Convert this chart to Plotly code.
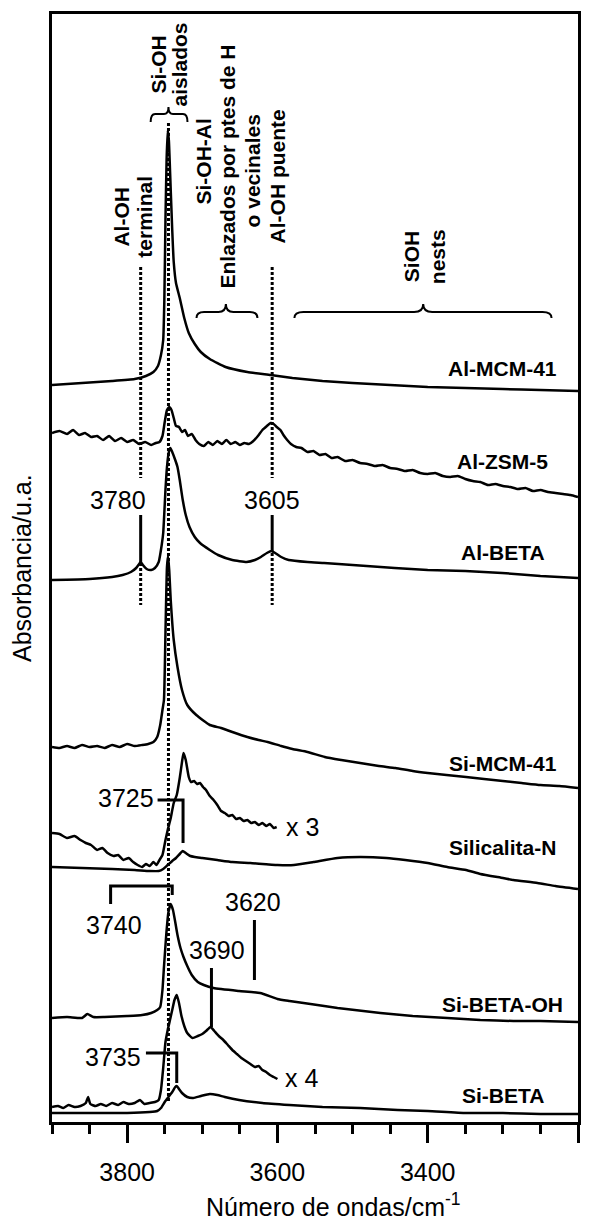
import plotly.graph_objects as go

# ---------------- data (wavenumber in cm-1, absorbance in a.u., stacked) ----------------
wn_al_mcm41 = [3900, 3860, 3820, 3790, 3775, 3765, 3759, 3755, 3752, 3750.5, 3749, 3747.5, 3746,
               3744.5, 3742, 3740, 3738, 3735, 3730, 3724, 3718, 3710, 3702, 3690, 3669, 3640,
               3609, 3580, 3540, 3500, 3450, 3400, 3350, 3300, 3250, 3200]
abs_al_mcm41 = [737, 739, 741, 743, 746, 750, 756, 767, 782, 822, 902, 962, 992,
                982, 932, 892, 860, 839, 824, 804, 789, 778, 770, 763, 755, 750,
                747, 744, 741, 739, 737, 735, 734, 733, 732, 731]

wn_al_zsm5 = [3900, 3890, 3880, 3872, 3864, 3856, 3848, 3840, 3832, 3824, 3816, 3808, 3800, 3792,
              3784, 3776, 3768, 3762, 3757, 3753, 3750, 3747, 3744, 3741, 3738, 3735, 3731, 3727,
              3723, 3719, 3714, 3709, 3704, 3698, 3692, 3686, 3680, 3674, 3668, 3662, 3656, 3650,
              3644, 3638, 3632, 3626, 3620, 3614, 3609, 3605, 3601, 3596, 3592, 3587, 3582, 3575,
              3568, 3560, 3552, 3544, 3536, 3528, 3520, 3510, 3500, 3490, 3480, 3470, 3460, 3450,
              3440, 3430, 3420, 3410, 3400, 3390, 3380, 3370, 3360, 3350, 3340, 3330, 3320, 3310,
              3300, 3290, 3280, 3270, 3260, 3250, 3240, 3230, 3220, 3210, 3200]
abs_al_zsm5 = [689, 691, 688, 692, 687, 689, 685, 686, 682, 686, 681, 684, 680, 682,
               678, 680, 677, 679, 680, 686, 700, 712, 715, 712, 704, 696, 695, 690,
               692, 686, 688, 682, 678, 676, 680, 677, 681, 678, 682, 678, 680, 677,
               679, 678, 681, 686, 692, 696, 699, 698, 695, 692, 687, 682, 678, 675,
               674, 670, 671, 667, 668, 664, 665, 661, 662, 659, 658, 656, 657, 654,
               653, 651, 652, 649, 648, 649, 646, 645, 646, 643, 641, 640, 637, 638,
               636, 635, 633, 634, 631, 632, 630, 629, 628, 627, 625]

wn_al_beta = [3900, 3850, 3820, 3806, 3795, 3788, 3784, 3782, 3779, 3774, 3768, 3763, 3758, 3754,
              3752, 3749, 3747, 3744.5, 3742.5, 3740, 3736, 3733, 3730, 3726, 3722, 3717, 3710,
              3703, 3690, 3679, 3660, 3641, 3630, 3622, 3614, 3608, 3603, 3595, 3585, 3560, 3538,
              3500, 3444, 3400, 3350, 3301, 3250, 3200]
abs_al_beta = [542, 543, 545, 547, 550, 554, 558, 560, 557, 553, 552, 554, 560, 577,
               589, 632, 655, 670, 674, 670, 662, 655, 642, 622, 607, 595, 585,
               579, 572, 567, 562, 560, 562, 565, 569, 571, 569, 565, 562, 560, 559,
               557, 554, 552, 551, 549, 546, 544]

wn_si_mcm41 = [3900, 3890, 3880, 3870, 3860, 3850, 3840, 3830, 3820, 3810, 3800, 3790, 3780, 3772,
               3765, 3760, 3756, 3753, 3751, 3749, 3747, 3745.5, 3744, 3742, 3738, 3733, 3727,
               3720, 3708, 3690, 3675, 3660, 3640, 3625, 3613, 3595, 3580, 3560, 3537, 3515,
               3490, 3465, 3443, 3420, 3400, 3375, 3349, 3325, 3300, 3275, 3250, 3225, 3200]
abs_si_mcm41 = [375, 374, 376, 374, 377, 375, 376, 374, 377, 375, 378, 376, 377, 378,
                380, 385, 397, 412, 422, 489, 555, 566, 552, 522, 482, 455, 432,
                417, 407, 397, 394, 390, 385, 382, 380, 376, 373, 370, 365, 362,
                359, 356, 354, 351, 349, 347, 345, 343, 341, 339, 337, 336, 334]

wn_silicalita_x3 = [3900, 3890, 3880, 3870, 3862, 3855, 3848, 3840, 3833, 3826, 3818, 3812, 3805,
                    3798, 3792, 3786, 3780, 3775, 3770, 3765, 3761, 3757, 3753, 3749, 3746, 3742,
                    3738, 3734, 3730, 3727, 3725, 3722, 3718, 3715, 3711, 3707, 3703, 3699, 3695,
                    3690, 3685, 3680, 3675, 3670, 3665, 3660, 3655, 3650, 3645, 3640, 3635, 3630,
                    3625, 3620, 3615, 3610, 3605, 3601]
abs_silicalita_x3 = [289, 288, 284, 286, 282, 279, 277, 272, 274, 269, 266, 267, 262,
                     264, 260, 257, 255, 258, 256, 260, 257, 262, 267, 282, 292, 304,
                     319, 327, 344, 360, 369, 362, 345, 340, 341, 338, 339, 335, 332,
                     326, 322, 317, 311, 309, 306, 307, 303, 304, 301, 302, 299, 300,
                     297, 299, 296, 298, 294, 295]

wn_silicalita = [3900, 3860, 3820, 3790, 3770, 3758, 3752, 3746, 3740, 3735, 3730, 3726, 3722,
                 3716, 3710, 3700, 3680, 3660, 3636, 3600, 3578, 3552, 3520, 3490, 3455, 3430,
                 3400, 3374, 3349, 3330, 3300, 3286, 3254, 3230, 3200]
abs_silicalita = [255, 254, 253, 252, 251, 251, 253, 257, 261, 264, 268, 271, 269,
                  266, 265, 264, 262, 260, 259, 257, 257, 260, 264, 265, 264, 262,
                  259, 255, 252, 248, 244, 242, 239, 236, 233]

wn_si_beta_oh = [3900, 3880, 3860, 3853, 3845, 3830, 3800, 3780, 3768, 3760, 3756, 3753, 3751,
                 3748, 3745, 3742, 3739, 3736, 3733, 3729, 3725, 3720, 3714, 3706, 3698, 3685,
                 3651, 3623, 3600, 3584, 3556, 3520, 3463, 3420, 3374, 3330, 3286, 3250, 3200]
abs_si_beta_oh = [104, 105, 104, 108, 105, 105, 106, 107, 109, 112, 115, 132, 155,
                  187, 210, 218, 212, 200, 187, 174, 165, 156, 147, 140, 137, 134,
                  131, 129, 123, 121, 118, 114, 109, 106, 104, 102, 101, 101, 100]

wn_si_beta_x4 = [3900, 3892, 3885, 3878, 3870, 3862, 3855, 3852, 3849, 3842, 3835, 3828, 3820,
                 3812, 3805, 3798, 3790, 3783, 3777, 3770, 3763, 3758, 3755, 3752, 3749, 3746,
                 3743, 3740, 3737, 3734, 3731, 3728, 3724, 3720, 3713, 3706, 3700, 3695, 3689,
                 3684, 3678, 3672, 3666, 3660, 3654, 3648, 3642, 3636, 3630, 3625, 3620, 3615,
                 3610, 3605, 3600]
abs_si_beta_x4 = [15, 16, 14, 17, 15, 16, 19, 25, 18, 16, 18, 16, 19,
                  17, 20, 18, 19, 22, 18, 19, 20, 22, 32, 54, 80, 92,
                  102, 112, 122, 127, 119, 107, 96, 89, 84, 86, 88, 91, 95,
                  91, 86, 82, 77, 72, 68, 64, 61, 58, 55, 56, 52, 50,
                  47, 45, 43]

wn_si_beta = [3900, 3850, 3800, 3770, 3760, 3755, 3750, 3745, 3740, 3736, 3734, 3731, 3727,
              3720, 3712, 3702, 3690, 3680, 3670, 3651, 3620, 3584, 3540, 3490, 3440, 3400,
              3349, 3300, 3250, 3200]
abs_si_beta = [9, 9, 9, 10, 11, 14, 20, 25, 30, 35, 36, 33, 29,
               25, 24, 26, 28, 27, 25, 22, 19, 17, 15, 14, 12, 11,
               9, 9, 8, 8]

spectra = [
    (wn_al_mcm41, abs_al_mcm41),
    (wn_al_zsm5, abs_al_zsm5),
    (wn_al_beta, abs_al_beta),
    (wn_si_mcm41, abs_si_mcm41),
    (wn_silicalita_x3, abs_silicalita_x3),
    (wn_silicalita, abs_silicalita),
    (wn_si_beta_oh, abs_si_beta_oh),
    (wn_si_beta_x4, abs_si_beta_x4),
    (wn_si_beta, abs_si_beta),
]

# sample names and the absorbance level at which each is written
sample_names = ["Al-MCM-41", "Al-ZSM-5", "Al-BETA", "Si-MCM-41", "Silicalita-N", "Si-BETA-OH", "Si-BETA"]
sample_label_y = [754, 661, 570, 359, 275, 118, 27]
sample_label_wn = 3300

# band assignment labels (rotated)
band_texts = ["Si-OH", "aislados", "Al-OH", "terminal", "Si-OH-Al", "Enlazados por ptes de H",
              "o vecinales", "Al-OH puente", "SiOH", "nests"]
band_wn = [3759.5, 3731.6, 3808.7, 3778, 3698.4, 3666.5, 3633.3, 3600, 3422, 3387.4]
band_y = [1057, 1057, 905, 905, 961, 956, 951, 946, 865, 865]

# peak position labels
peak_texts = ["3780", "3605", "3725", "3740", "3620", "3690", "3735", "x 3", "x 4"]
peak_wn = [3812, 3607, 3801.5, 3817.6, 3633, 3681, 3818.7, 3566.6, 3568]
peak_y = [622, 622, 324, 197, 220, 172, 65, 295, 44]

# x axis ticks
major_ticks = [3800, 3600, 3400, 3200]

FONT = "Liberation Sans, Arial, Helvetica, sans-serif"

fig = go.Figure()

for wn, ab in spectra:
    fig.add_trace(go.Scatter(x=wn, y=ab, mode="lines",
                             line=dict(color="black", width=2.5, shape="spline", smoothing=0.45),
                             hoverinfo="skip", showlegend=False))

# solid marker lines / brackets
marker_lines = [
    ([3782, 3782], [607, 559]),
    ([3607, 3607], [607, 571]),
    ([3759.5, 3725.6, 3725.6], [322, 322, 279]),
    ([3822, 3822, 3740, 3740], [218, 236, 236, 227]),
    ([3630.6, 3630.6], [202, 142]),
    ([3687.8, 3687.8], [154, 95]),
    ([3775, 3734, 3734], [69, 69, 39]),
]
for xs, ys in marker_lines:
    fig.add_trace(go.Scatter(x=xs, y=ys, mode="lines", line=dict(color="black", width=3),
                             hoverinfo="skip", showlegend=False))

# dotted guide lines
dotted = [
    (3745, 999, 19),
    (3782, 855, 644), (3782, 559, 517),
    (3607, 855, 644), (3607, 569, 517),
]
shapes = []
for xw, y0, y1 in dotted:
    shapes.append(dict(type="line", xref="x", yref="y", x0=xw, x1=xw, y0=y0, y1=y1,
                       line=dict(color="black", width=3, dash="3px,2px")))


def brace(wl, wr, wt, ve, vb, vt, r):
    return (f"M {wl},{ve} Q {wl},{vb} {wl - r},{vb} L {wt + r},{vb} "
            f"Q {wt},{vb} {wt},{vt} Q {wt},{vb} {wt - r},{vb} "
            f"L {wr + r},{vb} Q {wr},{vb} {wr},{ve}")


braces = [
    (3768.7, 3719.7, 3745, 1000, 1008, 1015, 6),
    (3707.7, 3626.6, 3668.6, 804, 810, 818, 10),
    (3577.4, 3235.2, 3406, 804, 810, 818, 12),
]
for b in braces:
    shapes.append(dict(type="path", xref="x", yref="y", path=brace(*b),
                       line=dict(color="black", width=2)))

annotations = []
for name, yy in zip(sample_names, sample_label_y):
    annotations.append(dict(x=sample_label_wn, y=yy, xref="x", yref="y", text=f"<b>{name}</b>",
                            showarrow=False, xanchor="center", yanchor="middle",
                            font=dict(family=FONT, size=21, color="black")))
for t, xw, yy in zip(band_texts, band_wn, band_y):
    annotations.append(dict(x=xw, y=yy, xref="x", yref="y", text=f"<b>{t}</b>", textangle=-90,
                            showarrow=False, xanchor="center", yanchor="middle",
                            font=dict(family=FONT, size=21, color="black")))
for t, xw, yy in zip(peak_texts, peak_wn, peak_y):
    annotations.append(dict(x=xw, y=yy, xref="x", yref="y", text=t,
                            showarrow=False, xanchor="center", yanchor="middle",
                            font=dict(family=FONT, size=25, color="black")))

# axis titles
annotations.append(dict(x=0, y=0.5, xref="paper", yref="paper", text="Absorbancia/u.a.",
                        textangle=-90, showarrow=False, xanchor="center", yanchor="middle",
                        xshift=-30, font=dict(family=FONT, size=25, color="black")))
annotations.append(dict(x=0.535, y=0, xref="paper", yref="paper",
                        text="Número de ondas/cm<sup>-1</sup>",
                        showarrow=False, xanchor="center", yanchor="middle",
                        yshift=-83, font=dict(family=FONT, size=25, color="black")))

fig.update_layout(
    width=597, height=1221,
    margin=dict(l=52, r=19, t=14, b=99),
    paper_bgcolor="white", plot_bgcolor="white",
    font=dict(family=FONT, color="black"),
    showlegend=False,
    shapes=shapes,
    annotations=annotations,
    xaxis=dict(range=[3900, 3200], showgrid=False, zeroline=False,
               showline=True, linecolor="black", linewidth=3, mirror=True,
               tickmode="array", tickvals=major_ticks, ticks="outside", ticklen=18,
               tickwidth=3, tickcolor="black", ticklabelstandoff=8,
               tickfont=dict(family=FONT, size=25, color="black"),
               minor=dict(dtick=50, tick0=3200, ticks="outside", ticklen=9, tickwidth=3,
                          tickcolor="black", showgrid=False)),
    yaxis=dict(range=[0, 1108], showgrid=False, zeroline=False, showticklabels=False,
               showline=True, linecolor="black", linewidth=3, mirror=True, ticks=""),
)

fig.write_html("out.html")
